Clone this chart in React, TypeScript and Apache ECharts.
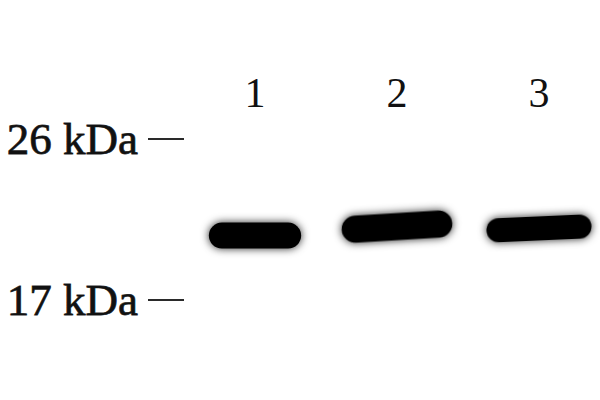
import React, { useEffect, useRef } from "react";
import * as echarts from "echarts";

const lanes = ["1", "2", "3"];
const laneNo = [1, 2, 3];
const markerKDa = [17, 26];
const bandKDa = [20.6, 21.1, 21.0];

// band look (fraction of lane width, tilt in degrees, thickness px)
const bandWidthFrac = [0.65, 0.78, 0.74];
const bandTilt = [0, 3.5, 2.5];
const bandThick = [26, 27, 24];

const App: React.FC = () => {
  const chartRef = useRef<HTMLDivElement>(null);

  useEffect(() => {
    if (!chartRef.current) return;
    const chart = echarts.init(chartRef.current, undefined, { renderer: "svg" });

    chart.setOption({
      animation: false,
      backgroundColor: "#ffffff",
      grid: { left: 184, right: 4.2, top: 67.4, bottom: 10.55 },
      xAxis: {
        type: "value",
        min: 0.5,
        max: 3.4,
        position: "top",
        axisLine: { show: false },
        axisTick: { show: false },
        splitLine: { show: false },
        axisLabel: {
          customValues: laneNo,
          formatter: (v: number) => lanes[v - 1] ?? "",
          inside: true,
          margin: 5,
          fontFamily: "Liberation Serif",
          fontSize: 42,
          color: "#111",
        },
      },
      yAxis: {
        type: "value",
        min: 12,
        max: 30,
        axisLine: { show: false },
        splitLine: { show: false },
        axisTick: {
          show: true,
          customValues: markerKDa,
          length: 36,
          lineStyle: { color: "#2a2a2a", width: 2 },
        },
        axisLabel: {
          customValues: markerKDa,
          margin: 46,
          formatter: (v: number) => `${v} kDa`,
          fontFamily: "Liberation Serif",
          fontSize: 45,
          color: "#111",
          textBorderColor: "#333",
          textBorderWidth: 0.8,
        },
      },
      series: [
        {
          type: "custom",
          name: "Band",
          data: laneNo.map((n, i) => [n, bandKDa[i]]),
          renderItem: (params: any, api: any) => {
            const i = params.dataIndex;
            const [cx, cy] = api.coord([api.value(0), api.value(1)]);
            const w = api.size([1, 0])[0] * bandWidthFrac[i];
            const h = bandThick[i];
            return {
              type: "rect",
              x: cx,
              y: cy,
              rotation: (bandTilt[i] * Math.PI) / 180,
              shape: { x: -w / 2, y: -h / 2, width: w, height: h, r: h / 2 },
              style: { fill: "#050505", shadowBlur: 8, shadowColor: "rgba(0,0,0,0.85)" },
            };
          },
        },
      ],
    });

    return () => chart.dispose();
  }, []);

  return (
    <div
      ref={chartRef}
      style={{ position: "fixed", left: 0, top: 0, width: "600px", height: "400px" }}
    />
  );
};

export default App;
